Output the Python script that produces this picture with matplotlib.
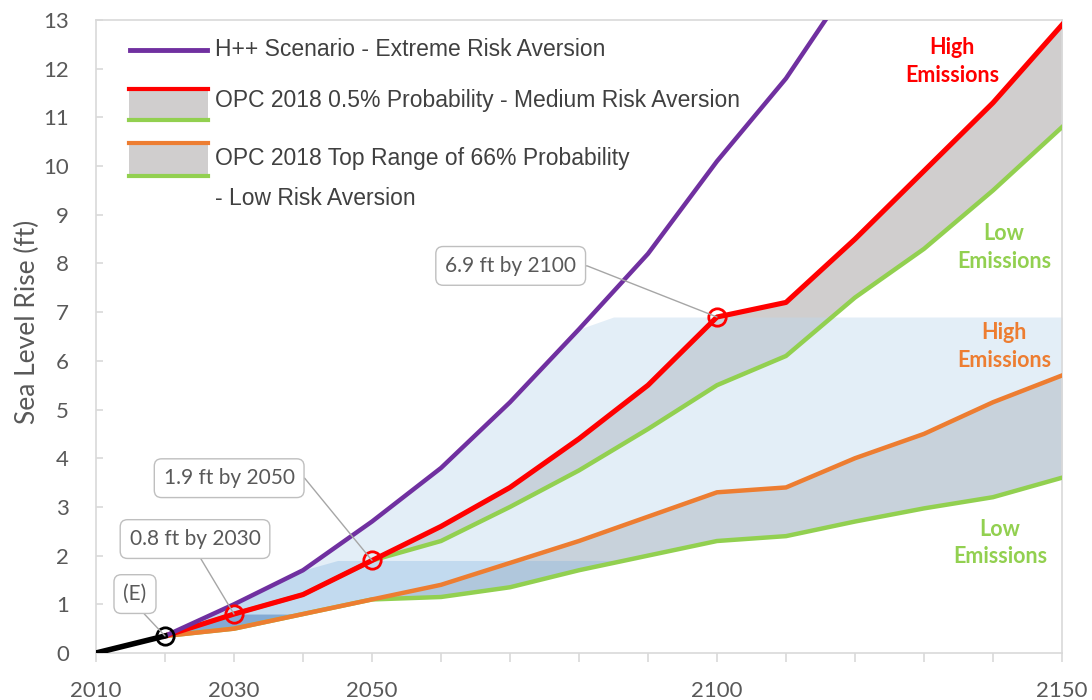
import numpy as np
import matplotlib.pyplot as plt
from matplotlib.lines import Line2D
from matplotlib.patches import Rectangle

# observed sea level rise (ft)
years_hist = [2010, 2020]
hist = [0.0, 0.35]

# H++ scenario
years_hpp = [2020, 2030, 2040, 2050, 2060, 2070, 2080, 2090, 2100, 2110, 2120]
hpp = [0.35, 1.0, 1.7, 2.7, 3.8, 5.15, 6.65, 8.2, 10.1, 11.8, 13.9]

# OPC 2018 projections
years_opc = [2020, 2030, 2040, 2050, 2060, 2070, 2080, 2090, 2100, 2110, 2120, 2130, 2140, 2150]
p05_high = [0.35, 0.8, 1.2, 1.9, 2.6, 3.4, 4.4, 5.5, 6.9, 7.2, 8.5, 9.9, 11.3, 12.9]
p05_low = [0.35, 0.8, 1.2, 1.9, 2.3, 3.0, 3.75, 4.6, 5.5, 6.1, 7.3, 8.3, 9.5, 10.8]
p66_high = [0.35, 0.5, 0.8, 1.1, 1.4, 1.85, 2.3, 2.8, 3.3, 3.4, 4.0, 4.5, 5.15, 5.7]
p66_low = [0.35, 0.5, 0.8, 1.1, 1.15, 1.35, 1.7, 2.0, 2.3, 2.4, 2.7, 2.97, 3.2, 3.6]

# shaded planning ranges (tops)
years_r69 = [2020, 2030, 2040, 2050, 2060, 2070, 2080, 2085, 2150]
r69 = [0.35, 1.0, 1.7, 2.7, 3.8, 5.15, 6.65, 6.9, 6.9]
years_r19 = [2020, 2030, 2040, 2045, 2150]
r19 = [0.35, 1.0, 1.7, 1.9, 1.9]
years_r08 = [2020, 2030, 2150]
r08 = [0.35, 0.8, 0.8]

# callouts
call_year = [2020, 2030, 2050, 2100]
call_val = [0.35, 0.8, 1.9, 6.9]
call_text = ['(E)', '0.8 ft by 2030', '1.9 ft by 2050', '6.9 ft by 2100']
call_color = ['black', 'red', 'red', 'red']

tick_years = list(range(2010, 2151, 10))
tick_labels = ['2010', '', '2030', '', '2050', '', '', '', '', '2100', '', '', '', '', '2150']

PURPLE = '#7030a0'
RED = '#ff0000'
GREEN = '#92d050'
ORANGE = '#ed7d31'
GRAY = '#d0cece'
TXT = '#595959'
SPINE = '#d9d9d9'
body = ['Lato', 'DejaVu Sans']
narrow = ['Liberation Sans Narrow', 'Liberation Sans', 'DejaVu Sans']

fig = plt.figure(figsize=(10.92, 7.0), dpi=100)
ax = fig.add_axes([96 / 1092, 47 / 700, 966 / 1092, 633 / 700])
ax.set_xlim(2010, 2150)
ax.set_ylim(0, 13)

# gray probability bands
ax.fill_between(years_opc, p05_low, p05_high, color=GRAY, lw=0, zorder=1)
ax.fill_between(years_opc, p66_low, p66_high, color=GRAY, lw=0, zorder=1)

# blue planning ranges, bounded below by lowest projection
grid = np.union1d(np.union1d(years_opc, years_r69), np.union1d(years_r19, years_r08))
base = np.interp(grid, years_opc, p66_low)
for yrs, top, col, a in [(years_r69, r69, (190/255, 216/255, 237/255), 0.43),
                         (years_r19, r19, (127/255, 178/255, 224/255), 0.32),
                         (years_r08, r08, (80/255, 132/255, 190/255), 0.55)]:
    t = np.interp(grid, yrs, top)
    ax.fill_between(grid, base, t, where=t > base, interpolate=True,
                    color=col, alpha=a, lw=0, zorder=2)

ax.plot(years_opc, p66_low, color=GREEN, lw=3.2, zorder=3)
ax.plot(years_opc, p66_high, color=ORANGE, lw=3.2, zorder=3)
ax.plot(years_opc, p05_low, color=GREEN, lw=3.2, zorder=3)
ax.plot(years_opc, p05_high, color=RED, lw=3.7, zorder=3)
ax.plot(years_hpp, hpp, color=PURPLE, lw=3.2, zorder=3)
ax.plot(years_hist, hist, color='black', lw=4, zorder=3)

# callouts
for yr, v, txt, c in zip(call_year, call_val, call_text, call_color):
    ax.plot(yr, v, 'o', ms=12.5, mfc='none', mec=c, mew=2, zorder=4)

ann_pos = [(2015.65, 1.21), (2024.35, 2.34), (2029.3, 3.59), (2070.1, 7.95)]
ann_rel = [(0.5, 0), (0.5, 0), (1, 0.5), (1, 0.5)]
ann_conn = ['arc3', 'arc3', 'arc,angleA=0,armA=10,angleB=0,armB=0,rad=0',
            'arc,angleA=0,armA=11,angleB=0,armB=0,rad=0']
for yr, v, txt, pos, rel, conn in zip(call_year, call_val, call_text, ann_pos, ann_rel, ann_conn):
    ax.annotate(txt, xy=(yr, v), xytext=pos, ha='center', va='center',
                fontsize=15, color=TXT, family=body, zorder=5,
                bbox=dict(boxstyle='round,pad=0.45,rounding_size=0.35', fc='white', ec='#bfbfbf', lw=1),
                arrowprops=dict(arrowstyle='-', color='#a6a6a6', lw=1, relpos=rel,
                                shrinkA=0, shrinkB=0, connectionstyle=conn))

# emission labels
ax.text(2134.1, 12.14, 'High\nEmissions', color=RED, fontsize=15.5, fontweight='bold',
        ha='center', va='center', linespacing=1.4, family=body)
ax.text(2141.6, 8.32, 'Low\nEmissions', color=GREEN, fontsize=15.5, fontweight='bold',
        ha='center', va='center', linespacing=1.4, family=body)
ax.text(2141.6, 6.30, 'High\nEmissions', color=ORANGE, fontsize=15.5, fontweight='bold',
        ha='center', va='center', linespacing=1.4, family=body)
ax.text(2141.0, 2.26, 'Low\nEmissions', color=GREEN, fontsize=15.5, fontweight='bold',
        ha='center', va='center', linespacing=1.4, family=body)

# legend drawn by hand
def fx(px):
    return (px - 96) / 966
def fy(py):
    return (653 - py) / 633

tr = ax.transAxes
ax.add_line(Line2D([fx(130), fx(207)], [fy(50), fy(50)], color=PURPLE, lw=3.5, transform=tr, zorder=6))
for y0, y1, topc in [(87, 122, RED), (141, 178, ORANGE)]:
    ax.add_patch(Rectangle((fx(129), fy(y1)), fx(208) - fx(129), fy(y0) - fy(y1),
                           fc=GRAY, ec='none', transform=tr, zorder=6))
    ax.add_line(Line2D([fx(129), fx(208)], [fy(y0 + 2), fy(y0 + 2)], color=topc, lw=3, transform=tr, zorder=7))
    ax.add_line(Line2D([fx(129), fx(208)], [fy(y1 - 2), fy(y1 - 2)], color=GREEN, lw=3, transform=tr, zorder=7))
leg_text = ['H++ Scenario - Extreme Risk Aversion',
            'OPC 2018 0.5% Probability - Medium Risk Aversion',
            'OPC 2018 Top Range of 66% Probability',
            '- Low Risk Aversion']
for py, s in zip([49, 101, 158, 198], leg_text):
    ax.text(fx(215), fy(py), s, transform=tr, fontsize=16.5, color='#404040',
            va='center', ha='left', family=narrow, zorder=7)

# axes styling
for sp in ax.spines.values():
    sp.set_color(SPINE)
    sp.set_linewidth(1.2)
ax.set_xticks(tick_years)
ax.set_xticklabels(tick_labels)
ax.set_yticks(range(0, 14))
ax.tick_params(axis='x', direction='out', length=6.5, width=1.2, color=SPINE,
               labelcolor=TXT, labelsize=16, pad=14)
ax.tick_params(axis='y', direction='in', length=5, width=1.2, color=SPINE,
               labelcolor=TXT, labelsize=16, pad=19.5)
for lab in ax.get_xticklabels() + ax.get_yticklabels():
    lab.set_family(body)
ax.set_ylabel('Sea Level Rise (ft)', fontsize=19, color=TXT, family=body)
ax.yaxis.set_label_coords(-0.058, 0.523)

fig.savefig('out.png', dpi=100)
